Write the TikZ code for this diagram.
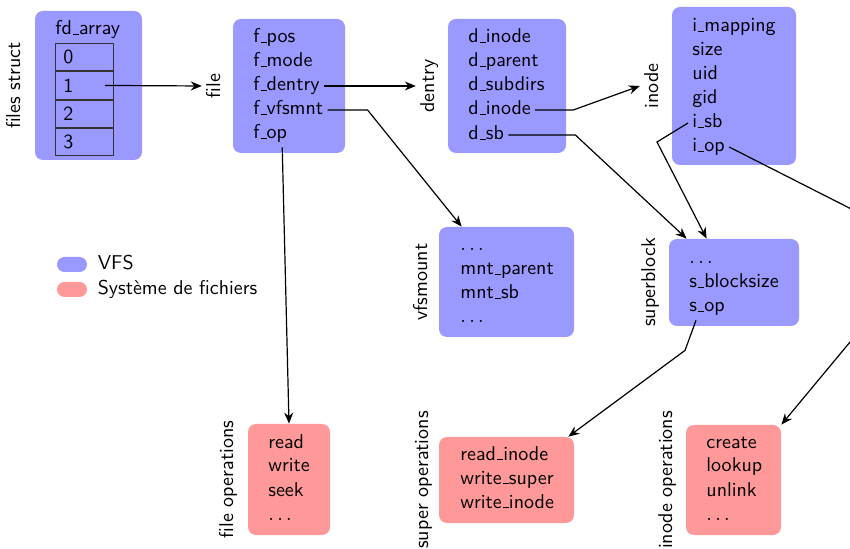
\documentclass[tikz,border=0pt]{standalone}
\usetikzlibrary{positioning,calc,arrows.meta}
\renewcommand{\familydefault}{\sfdefault}
\colorlet{vfs}{blue!40}
\colorlet{fsys}{red!40}
\newcommand{\us}{\leavevmode\kern.06em\vbox{\hrule width.3em}}

\begin{document}
\begin{tikzpicture}[x=0.5pt,y=-0.5pt,font=\fontsize{10}{12}\selectfont,
  box/.style={rounded corners=4pt,inner sep=0pt},
  vfsbox/.style={box,fill=vfs},
  fsbox/.style={box,fill=fsys},
  field/.style={anchor=west,inner sep=2pt,text height=7pt,text depth=2pt},
  lbl/.style={rotate=90,inner sep=2pt,text height=7pt,text depth=2pt},
  cell/.style={draw=black!80,thin,text width=21pt,inner xsep=4pt,inner ysep=0pt,minimum height=13.75pt,align=left},
  link/.style={-{Stealth[length=5.5pt,width=4.5pt]},semithick},
  pill/.style={rounded corners=3.75pt,minimum width=15pt,minimum height=7.5pt,inner sep=0pt}]
\useasboundingbox (0,0) rectangle (850,549);

% boxes
\node[vfsbox,minimum width=53.5pt,minimum height=74.5pt] (fs) at (88.5,85.5) {};
\node[vfsbox,minimum width=56pt,minimum height=67pt] (file) at (289,86) {};
\node[vfsbox,minimum width=59pt,minimum height=67pt] (dentry) at (507,86) {};
\node[vfsbox,minimum width=62pt,minimum height=79pt] (inode) at (734,86) {};
\node[vfsbox,minimum width=67.5pt,minimum height=55pt] (vfsm) at (506.5,282) {};
\node[vfsbox,minimum width=65pt,minimum height=43.5pt] (sb) at (734,282.5) {};
\node[fsbox,minimum width=41pt,minimum height=55.5pt] (fops) at (289,479.5) {};
\node[fsbox,minimum width=67.5pt,minimum height=43pt] (sops) at (506.5,480) {};
\node[fsbox,minimum width=47.5pt,minimum height=55pt] (iops) at (733.5,480) {};

% labels
\node[lbl,left=3pt of fs,anchor=south] (fslbl) {files struct};
\node[lbl,left=2pt of file,anchor=south] (flbl) {file};
\node[lbl,left=2.5pt of dentry,anchor=south] (dlbl) {dentry};
\node[lbl,left=2.5pt of inode,anchor=south] (ilbl) {inode};
\node[lbl,left=1.5pt of vfsm,anchor=south] (vlbl) {vfsmount};
\node[lbl,left=2.5pt of sb,anchor=south] (sblbl) {superblock};
\node[lbl,left=3pt of fops,anchor=south] {file operations};
\node[lbl,left=1pt of sops,anchor=south] {super operations};
\node[lbl,left=2.5pt of iops,anchor=south] {inode operations};

% files struct
\node[field] (fdarr) at (51,30) {fd\us array};
\node[cell,anchor=north west] (c0) at (55,43) {0};
\node[cell,below=0pt of c0] (c1) {1};
\node[cell,below=0pt of c1] (c2) {2};
\node[cell,below=0pt of c2] (c3) {3};

% file
\node[field] (fpos) at (249,38) {f\us pos};
\node[field] (fmode) at (249,62) {f\us mode};
\node[field] (fdentry) at (249,86) {f\us dentry};
\node[field] (fvfsmnt) at (249,110) {f\us vfsmnt};
\node[field] (fop) at (249,134) {f\us op};

% dentry
\node[field] (dinode) at (464,38) {d\us inode};
\node[field] (dparent) at (464,62) {d\us parent};
\node[field] (dsubdirs) at (464,86) {d\us subdirs};
\node[field] (dinodeb) at (464,110) {d\us inode};
\node[field] (dsb) at (464,135) {d\us sb};

% inode
\node[field] (imap) at (688,27) {i\us mapping};
\node[field] (isize) at (688,51) {size};
\node[field] (iuid) at (688,75) {uid};
\node[field] (igid) at (688,99) {gid};
\node[field] (isb) at (688,123) {i\us sb};
\node[field] (iop) at (688,147) {i\us op};

% vfsmount
\node[field] (vdots) at (456,246) {$\dots$};
\node[field] (vpar) at (456,270) {mnt\us parent};
\node[field] (vsb) at (456,294) {mnt\us sb};
\node[field] (vdotsb) at (456,318) {$\dots$};

% superblock
\node[field] (sdots) at (685,259) {$\dots$};
\node[field] (sbsize) at (685,283) {s\us blocksize};
\node[field] (sop) at (685,307) {s\us op};

% operations
\node[field] (oread) at (264,443) {read};
\node[field] (owrite) at (264,467) {write};
\node[field] (oseek) at (264,491) {seek};
\node[field] (odots) at (264,515) {$\dots$};
\node[field] (srino) at (456,455) {read\us inode};
\node[field] (swsup) at (456,479) {write\us super};
\node[field] (swino) at (456,503) {write\us inode};
\node[field] (icreate) at (702,443) {create};
\node[field] (ilookup) at (702,467) {lookup};
\node[field] (iunlink) at (702,491) {unlink};
\node[field] (idots) at (702,515) {$\dots$};

% legend
\node[pill,fill=vfs] (kvfs) at (72,264.5) {};
\node[field,right=3pt of kvfs] {VFS};
\node[pill,fill=fsys] (kfs) at (72,289.5) {};
\node[field,right=3pt of kfs] {Système de fichiers};

% links
\draw[link] ([xshift=-4.5pt]c1.east) -- (flbl.north);
\draw[link] (fdentry.east) -- (dlbl.north);
\draw[link] (fvfsmnt.east) -- ++(40,0) -- ([xshift=11.5pt]vfsm.north west);
\draw[link] ([xshift=6pt]fop.south) -- (fops.north);
\draw[link] (dinodeb.east) -- ++(38,0) -- (ilbl.north);
\draw[link] (dsb.east) -- ++(67,0) -- ([xshift=9pt]sb.north west);
\draw[link] (isb.west) -- ++(-31,19) -- ([xshift=19pt]sb.north west);
\draw[link] (iop.east) -- ++(199,101) -- (iops.north east);
\draw[link] ($(sop.south)!0.5!(sop.south west)$) -- ++(-11,30) -- ([xshift=-3pt]sops.north east);
\end{tikzpicture}
\end{document}
